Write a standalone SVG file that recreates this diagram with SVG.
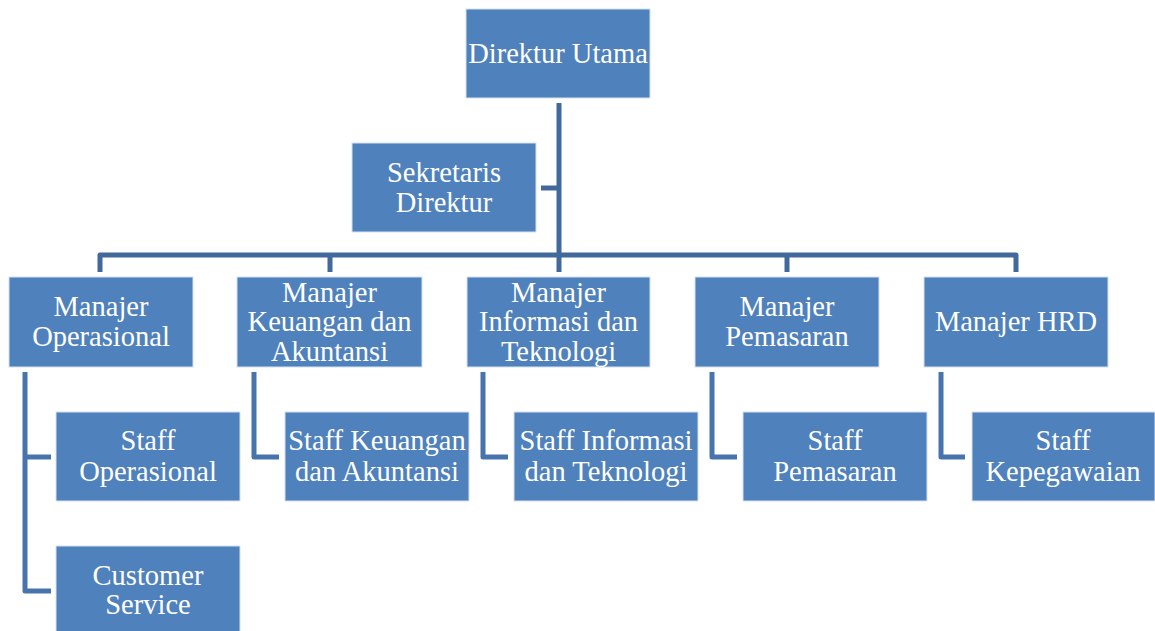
<svg xmlns="http://www.w3.org/2000/svg" width="1155" height="631" viewBox="0 0 1155 631">
<style>
.box{fill:#4F81BD;stroke:#D6E1EF;stroke-width:1}
.t{font-size:28.5px;fill:#FFFFFF;text-anchor:middle}
.main{fill:none;stroke:#41699C;stroke-width:5;stroke-linejoin:round}
.sub{fill:none;stroke:#4874AD;stroke-width:5;stroke-linejoin:round}
</style>
<rect width="1155" height="631" fill="#FFFFFF"/>
<g id="connectors">
<path class="main" d="M559,103 V272"/>
<path class="main" d="M541,188 H559"/>
<path class="main" d="M100,272 V255 H1016 V272"/>
<path class="main" d="M330,255 V272"/>
<path class="main" d="M787,255 V272"/>
<path class="sub" d="M25,372 V591 H51"/>
<path class="sub" d="M25,457 H51"/>
<path class="sub" d="M254,372 V457 H279"/>
<path class="sub" d="M483,372 V457 H508"/>
<path class="sub" d="M712,372 V457 H737"/>
<path class="sub" d="M941,372 V457 H965"/>
</g>
<g font-family="'Liberation Serif', Tinos, 'Times New Roman', 'DejaVu Serif', serif">
<g id="direktur-utama"><rect class="box" x="466" y="9" width="184" height="89"/><text class="t" x="558" y="63">Direktur Utama</text></g>
<g id="sekretaris-direktur"><rect class="box" x="352" y="143" width="184" height="89"/><text class="t" x="444" y="182">Sekretaris</text><text class="t" x="444" y="212">Direktur</text></g>
<g id="manajer-operasional"><rect class="box" x="9" y="277" width="184" height="90"/><text class="t" x="101" y="316">Manajer</text><text class="t" x="101" y="346">Operasional</text></g>
<g id="manajer-keuangan"><rect class="box" x="237" y="277" width="185" height="90"/><text class="t" x="329.5" y="302">Manajer</text><text class="t" x="329.5" y="331">Keuangan dan</text><text class="t" x="329.5" y="361">Akuntansi</text></g>
<g id="manajer-informasi"><rect class="box" x="467" y="277" width="183" height="90"/><text class="t" x="558.5" y="302">Manajer</text><text class="t" x="558.5" y="331">Informasi dan</text><text class="t" x="558.5" y="361">Teknologi</text></g>
<g id="manajer-pemasaran"><rect class="box" x="695" y="277" width="184" height="90"/><text class="t" x="787" y="316">Manajer</text><text class="t" x="787" y="346">Pemasaran</text></g>
<g id="manajer-hrd"><rect class="box" x="924" y="277" width="184" height="90"/><text class="t" x="1016" y="331">Manajer HRD</text></g>
<g id="staff-operasional"><rect class="box" x="56" y="412" width="184" height="89"/><text class="t" x="148" y="450">Staff</text><text class="t" x="148" y="481">Operasional</text></g>
<g id="customer-service"><rect class="box" x="56" y="546" width="184" height="89"/><text class="t" x="148" y="585">Customer</text><text class="t" x="148" y="614">Service</text></g>
<g id="staff-keuangan"><rect class="box" x="285" y="412" width="184" height="89"/><text class="t" x="377" y="450">Staff Keuangan</text><text class="t" x="377" y="481">dan Akuntansi</text></g>
<g id="staff-informasi"><rect class="box" x="514" y="412" width="184" height="89"/><text class="t" x="606" y="450">Staff Informasi</text><text class="t" x="606" y="481">dan Teknologi</text></g>
<g id="staff-pemasaran"><rect class="box" x="743" y="412" width="184" height="89"/><text class="t" x="835" y="450">Staff</text><text class="t" x="835" y="481">Pemasaran</text></g>
<g id="staff-kepegawaian"><rect class="box" x="972" y="412" width="183" height="89"/><text class="t" x="1063" y="450">Staff</text><text class="t" x="1063" y="481">Kepegawaian</text></g>
</g>
</svg>
